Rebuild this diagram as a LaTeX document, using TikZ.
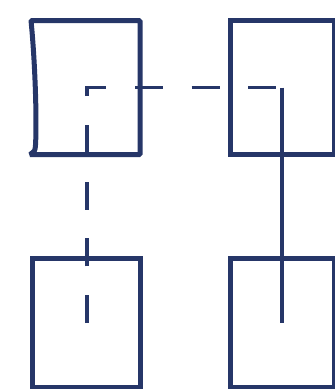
\documentclass[tikz,border=0pt]{standalone}
\usepackage{tikz}
\usetikzlibrary{positioning,calc}

\definecolor{navy}{RGB}{38,54,104}

\begin{document}
\begin{tikzpicture}[
    x=1pt, y=-1pt,
    box/.style={rectangle, draw=navy, line width=5pt, minimum width=108pt, minimum height=134pt, inner sep=0pt, outer sep=0pt},
    link/.style={navy, line width=3.5pt},
    dashlink/.style={link, dash pattern=on 28pt off 28.7pt}
]
    \useasboundingbox (0,0) rectangle (335,389);

    \node[box, draw=none] (topleft) at (86,87.5) {};
    \node[box, minimum width=104pt] (topright) at (282,87.5) {};
    \node[box, minimum height=128.5pt] (botleft) at (86,323) {};
    \node[box, minimum width=104pt, minimum height=128.5pt] (botright) at (282,323) {};

    % hand drawn frame of the first box
    \draw[navy, line width=5pt, line join=bevel] (topleft.north east) -- (31,20.5)
        .. controls (35,60) and (37,120) .. (35.5,145)
        .. controls (35,151) .. (30,154.5) -- (topleft.south east) -- cycle;

    \draw[dashlink] ([xshift=1pt]botleft.center) -- ([xshift=1pt]topleft.center) -- (topright.center);
    \draw[link] (topright.center) -- (botright.center);
\end{tikzpicture}
\end{document}
